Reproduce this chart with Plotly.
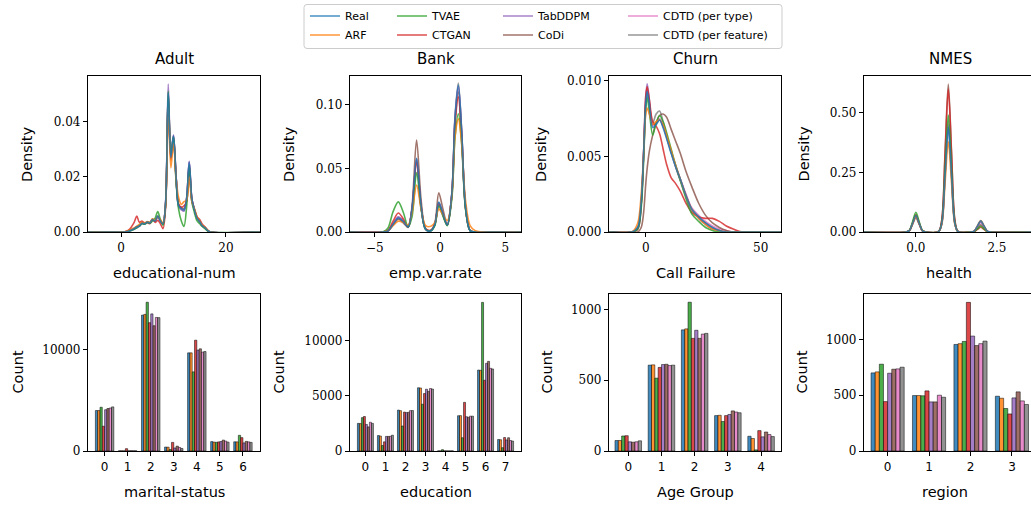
import plotly.graph_objects as go

W, H = 1031, 505

MODELS = ["Real", "ARF", "TVAE", "CTGAN", "TabDDPM", "CoDi",
          "CDTD (per type)", "CDTD (per feature)"]
COLORS = ["#1f77b4", "#ff7f0e", "#2ca02c", "#d62728", "#9467bd", "#8c564b",
          "#e377c2", "#7f7f7f"]

DATASETS = ["Adult", "Bank", "Churn", "NMES"]
NUM_FEATURES = ["educational-num", "emp.var.rate", "Call Failure", "health"]
CAT_FEATURES = ["marital-status", "education", "Age Group", "region"]

# ---------------- density curves ----------------
adult_x = [-6.3, 0.5, 1.5, 2.5, 3.0, 3.5, 4.0, 4.5, 5.0, 5.5, 6.0, 6.5, 7.0, 7.5, 8.0, 8.5,
           9.0, 9.5, 10.0, 10.5, 11.0, 11.5, 12.0, 12.5, 13.0, 13.5, 14.0, 14.5, 15.0,
           15.5, 16.0, 16.5, 17.0, 26.5]
adult_density = {
    "Real": [0, 0, 0.0004, 0.0012, 0.0018, 0.0022, 0.0032, 0.0030, 0.0036, 0.0033, 0.0045, 0.0040, 0.0058, 0.0040, 0.0030, 0.0105,
             0.0505, 0.0270, 0.0348, 0.0200, 0.0095, 0.0085, 0.0080, 0.0120, 0.0252, 0.0120, 0.0080, 0.0050, 0.0038, 0.0022, 0.0016, 0.0006, 0, 0],
    "ARF": [0, 0, 0.0006, 0.0015, 0.0020, 0.0028, 0.0035, 0.0032, 0.0038, 0.0035, 0.0048, 0.0042, 0.0055, 0.0045, 0.0032, 0.0098,
            0.0450, 0.0232, 0.0320, 0.0195, 0.0123, 0.0100, 0.0110, 0.0115, 0.0200, 0.0110, 0.0085, 0.0055, 0.0040, 0.0025, 0.0018, 0.0008, 0, 0],
    "TVAE": [0, 0, 0.0003, 0.0010, 0.0015, 0.0022, 0.0030, 0.0028, 0.0035, 0.0032, 0.0040, 0.0050, 0.0074, 0.0045, 0.0025, 0.0100,
             0.0510, 0.0280, 0.0345, 0.0180, 0.0080, 0.0040, 0.0020, 0.0090, 0.0240, 0.0110, 0.0070, 0.0040, 0.0030, 0.0020, 0.0012, 0.0004, 0, 0],
    "CTGAN": [0, 0, 0.0008, 0.0035, 0.0058, 0.0035, 0.0040, 0.0032, 0.0035, 0.0030, 0.0045, 0.0035, 0.0042, 0.0030, 0.0012, 0.0090,
              0.0490, 0.0260, 0.0340, 0.0190, 0.0100, 0.0090, 0.0095, 0.0110, 0.0238, 0.0115, 0.0080, 0.0055, 0.0045, 0.0028, 0.0018, 0.0006, 0, 0],
    "TabDDPM": [0, 0, 0.0003, 0.0010, 0.0015, 0.0020, 0.0030, 0.0028, 0.0034, 0.0032, 0.0043, 0.0040, 0.0055, 0.0040, 0.0028, 0.0110,
                0.0536, 0.0285, 0.0352, 0.0200, 0.0090, 0.0080, 0.0075, 0.0120, 0.0256, 0.0120, 0.0080, 0.0050, 0.0036, 0.0022, 0.0015, 0.0005, 0, 0],
    "CoDi": [0, 0, 0.0005, 0.0013, 0.0020, 0.0024, 0.0033, 0.0031, 0.0036, 0.0034, 0.0046, 0.0041, 0.0057, 0.0042, 0.0031, 0.0100,
             0.0480, 0.0265, 0.0335, 0.0198, 0.0098, 0.0088, 0.0085, 0.0118, 0.0242, 0.0118, 0.0082, 0.0052, 0.0038, 0.0023, 0.0017, 0.0006, 0, 0],
    "CDTD (per type)": [0, 0, 0.0004, 0.0012, 0.0018, 0.0022, 0.0032, 0.0030, 0.0036, 0.0033, 0.0045, 0.0040, 0.0058, 0.0041, 0.0030, 0.0105,
                        0.0510, 0.0272, 0.0349, 0.0200, 0.0095, 0.0085, 0.0080, 0.0121, 0.0253, 0.0121, 0.0080, 0.0050, 0.0038, 0.0022, 0.0016, 0.0006, 0, 0],
    "CDTD (per feature)": [0, 0, 0.0004, 0.0012, 0.0018, 0.0022, 0.0032, 0.0030, 0.0036, 0.0033, 0.0045, 0.0040, 0.0058, 0.0041, 0.0030, 0.0105,
                           0.0500, 0.0270, 0.0347, 0.0200, 0.0095, 0.0085, 0.0080, 0.0120, 0.0250, 0.0120, 0.0080, 0.0050, 0.0038, 0.0022, 0.0016, 0.0006, 0, 0],
}

bank_x = [-6.9, -4.4, -4.0, -3.6, -3.2, -2.8, -2.45, -2.15, -1.8, -1.45, -1.1, -0.7,
          -0.4, -0.1, 0.2, 0.55, 0.9, 1.15, 1.4, 1.65, 1.95, 2.3, 2.7, 6.2]
bank_density = {
    "Real": [0, 0, 0.0008, 0.0060, 0.0110, 0.0080, 0.0040, 0.0180, 0.0580, 0.0200, 0.0020, 0.0010,
             0.0060, 0.0235, 0.0150, 0.0055, 0.0300, 0.0900, 0.1155, 0.0800, 0.0200, 0.0010, 0, 0],
    "ARF": [0, 0, 0.0012, 0.0050, 0.0085, 0.0075, 0.0055, 0.0150, 0.0370, 0.0180, 0.0050, 0.0045,
            0.0075, 0.0180, 0.0140, 0.0090, 0.0280, 0.0750, 0.0890, 0.0700, 0.0250, 0.0050, 0.0010, 0],
    "TVAE": [0, 0, 0.0030, 0.0160, 0.0237, 0.0150, 0.0040, 0.0120, 0.0466, 0.0180, 0.0020, 0.0010,
             0.0050, 0.0205, 0.0130, 0.0050, 0.0260, 0.0750, 0.0930, 0.0700, 0.0180, 0.0010, 0, 0],
    "CTGAN": [0, 0, 0.0012, 0.0085, 0.0150, 0.0100, 0.0040, 0.0170, 0.0550, 0.0190, 0.0025, 0.0015,
              0.0060, 0.0220, 0.0140, 0.0055, 0.0290, 0.0850, 0.1063, 0.0750, 0.0190, 0.0012, 0, 0],
    "TabDDPM": [0, 0, 0.0008, 0.0065, 0.0120, 0.0085, 0.0040, 0.0180, 0.0570, 0.0200, 0.0020, 0.0012,
                0.0060, 0.0225, 0.0145, 0.0055, 0.0300, 0.0900, 0.1140, 0.0790, 0.0200, 0.0010, 0, 0],
    "CoDi": [0, 0, 0.0006, 0.0055, 0.0100, 0.0070, 0.0035, 0.0200, 0.0724, 0.0250, 0.0025, 0.0012,
             0.0070, 0.0308, 0.0190, 0.0055, 0.0290, 0.0870, 0.1100, 0.0770, 0.0190, 0.0010, 0, 0],
    "CDTD (per type)": [0, 0, 0.0008, 0.0062, 0.0115, 0.0082, 0.0040, 0.0180, 0.0575, 0.0200, 0.0020, 0.0010,
                        0.0060, 0.0230, 0.0148, 0.0055, 0.0300, 0.0900, 0.1150, 0.0800, 0.0200, 0.0010, 0, 0],
    "CDTD (per feature)": [0, 0, 0.0008, 0.0060, 0.0110, 0.0080, 0.0040, 0.0180, 0.0570, 0.0200, 0.0020, 0.0010,
                           0.0060, 0.0230, 0.0148, 0.0055, 0.0305, 0.0920, 0.1172, 0.0810, 0.0200, 0.0010, 0, 0],
}

churn_x = [-16, -6, -3.5, -2, -1, 0, 0.6, 1.5, 3, 4.5, 6, 7.5, 9, 11, 13, 15, 17.5, 20,
           23, 26, 29, 32, 35, 38, 42, 58.8]
churn_density = {
    "Real": [0, 0, 0.0003, 0.0020, 0.0050, 0.0085, 0.0093, 0.0085, 0.0069, 0.0071, 0.0074, 0.0069, 0.0062,
             0.0052, 0.0043, 0.0035, 0.0024, 0.0015, 0.0010, 0.0006, 0.0003, 0.0001, 0, 0, 0, 0],
    "ARF": [0, 0, 0.0006, 0.0025, 0.0050, 0.0078, 0.0082, 0.0078, 0.0071, 0.0073, 0.0074, 0.0071, 0.0064,
            0.0054, 0.0044, 0.0035, 0.0024, 0.0015, 0.0009, 0.0005, 0.0002, 0.0001, 0, 0, 0, 0],
    "TVAE": [0, 0, 0.0002, 0.0016, 0.0045, 0.0082, 0.0089, 0.0080, 0.0064, 0.0072, 0.0077, 0.0073, 0.0066,
             0.0055, 0.0044, 0.0034, 0.0022, 0.0012, 0.0007, 0.0003, 0.0001, 0, 0, 0, 0, 0],
    "CTGAN": [0, 0, 0.0002, 0.0018, 0.0050, 0.0090, 0.0096, 0.0088, 0.0073, 0.0070, 0.0065, 0.0055, 0.0045,
              0.0036, 0.0032, 0.0027, 0.0019, 0.0013, 0.0010, 0.0009, 0.0009, 0.0007, 0.0004, 0.0002, 0, 0],
    "TabDDPM": [0, 0, 0.0002, 0.0018, 0.0050, 0.0090, 0.0098, 0.0088, 0.0071, 0.0072, 0.0074, 0.0070, 0.0063,
                0.0053, 0.0044, 0.0035, 0.0024, 0.0015, 0.0009, 0.0005, 0.0002, 0.0001, 0, 0, 0, 0],
    "CoDi": [0, 0, 0, 0.0003, 0.0012, 0.0032, 0.0042, 0.0053, 0.0064, 0.0072, 0.0077, 0.0078, 0.0076,
             0.0068, 0.0060, 0.0052, 0.0040, 0.0030, 0.0019, 0.0011, 0.0006, 0.0003, 0.0001, 0, 0, 0],
    "CDTD (per type)": [0, 0, 0.0003, 0.0020, 0.0050, 0.0087, 0.0095, 0.0086, 0.0070, 0.0072, 0.0075, 0.0070, 0.0063,
                        0.0053, 0.0043, 0.0035, 0.0025, 0.0016, 0.0011, 0.0007, 0.0004, 0.0002, 0.0001, 0, 0, 0],
    "CDTD (per feature)": [0, 0, 0.0003, 0.0019, 0.0048, 0.0084, 0.0092, 0.0085, 0.0072, 0.0078, 0.0080, 0.0073, 0.0064,
                           0.0053, 0.0043, 0.0034, 0.0024, 0.0015, 0.0010, 0.0006, 0.0003, 0.0001, 0, 0, 0, 0],
}

nmes_x = [-1.6, -0.3, -0.2, -0.1, 0.0, 0.1, 0.2, 0.3, 0.7, 0.8, 0.9, 1.0, 1.1, 1.2, 1.3,
          1.7, 1.8, 1.9, 2.0, 2.1, 2.2, 2.3, 3.6]
nmes_density = {
    "Real": [0, 0.0003, 0.0058, 0.0367, 0.068, 0.0367, 0.0058, 0.0003, 0.0018, 0.0373, 0.2371, 0.439, 0.2371, 0.0373, 0.0018,
             0.0002, 0.0040, 0.0254, 0.047, 0.0254, 0.0040, 0.0002, 0],
    "ARF": [0, 0.0003, 0.0055, 0.0351, 0.065, 0.0351, 0.0055, 0.0003, 0.0015, 0.0322, 0.2047, 0.379, 0.2047, 0.0322, 0.0015,
            0.0002, 0.0041, 0.0259, 0.048, 0.0259, 0.0041, 0.0002, 0],
    "TVAE": [0, 0.0003, 0.0070, 0.0443, 0.082, 0.0443, 0.0070, 0.0003, 0.0020, 0.0417, 0.2646, 0.490, 0.2646, 0.0417, 0.0020,
             0.0001, 0.0020, 0.0130, 0.024, 0.0130, 0.0020, 0.0001, 0],
    "CTGAN": [0, 0.0003, 0.0061, 0.0389, 0.072, 0.0389, 0.0061, 0.0003, 0.0024, 0.0509, 0.3235, 0.599, 0.3235, 0.0509, 0.0024,
              0.0001, 0.0017, 0.0108, 0.020, 0.0108, 0.0017, 0.0001, 0],
    "TabDDPM": [0, 0.0003, 0.0056, 0.0356, 0.066, 0.0356, 0.0056, 0.0003, 0.0018, 0.0383, 0.2430, 0.450, 0.2430, 0.0383, 0.0018,
                0.0002, 0.0034, 0.0216, 0.040, 0.0216, 0.0034, 0.0002, 0],
    "CoDi": [0, 0.0002, 0.0051, 0.0324, 0.060, 0.0324, 0.0051, 0.0002, 0.0025, 0.0527, 0.3348, 0.620, 0.3348, 0.0527, 0.0025,
             0.0001, 0.0026, 0.0162, 0.030, 0.0162, 0.0026, 0.0001, 0],
    "CDTD (per type)": [0, 0.0003, 0.0058, 0.0367, 0.068, 0.0367, 0.0058, 0.0003, 0.0018, 0.0391, 0.2484, 0.460, 0.2484, 0.0391, 0.0018,
                        0.0002, 0.0038, 0.0243, 0.045, 0.0243, 0.0038, 0.0002, 0],
    "CDTD (per feature)": [0, 0.0003, 0.0060, 0.0378, 0.070, 0.0378, 0.0060, 0.0003, 0.0018, 0.0374, 0.2376, 0.440, 0.2376, 0.0374, 0.0018,
                           0.0002, 0.0039, 0.0248, 0.046, 0.0248, 0.0039, 0.0002, 0],
}

# ---------------- categorical counts ----------------
adult_cats = [0, 1, 2, 3, 4, 5, 6]
adult_counts = {
    "Real": [4000, 22, 13430, 390, 9700, 930, 910],
    "ARF": [4000, 20, 13500, 380, 9700, 880, 900],
    "TVAE": [4320, 15, 14700, 150, 7820, 860, 1550],
    "CTGAN": [2450, 230, 12680, 850, 10950, 900, 1320],
    "TabDDPM": [4080, 20, 13550, 300, 9970, 940, 800],
    "CoDi": [4200, 25, 12380, 480, 10100, 1080, 950],
    "CDTD (per type)": [4250, 22, 13200, 350, 9770, 980, 900],
    "CDTD (per feature)": [4360, 20, 13180, 250, 9830, 880, 850],
}

bank_cats = [0, 1, 2, 3, 4, 5, 6, 7]
bank_counts = {
    "Real": [2500, 1400, 3700, 5720, 11, 3190, 7320, 1040],
    "ARF": [2480, 1350, 3650, 5700, 10, 3200, 7300, 1020],
    "TVAE": [3020, 500, 2260, 4230, 120, 1200, 13440, 300],
    "CTGAN": [3120, 830, 3520, 5200, 15, 4400, 6400, 1220],
    "TabDDPM": [2400, 1320, 3470, 5590, 10, 3100, 7930, 1000],
    "CoDi": [2180, 1320, 3500, 5400, 8, 3050, 8110, 1200],
    "CDTD (per type)": [2600, 1330, 3650, 5650, 12, 3150, 7480, 950],
    "CDTD (per feature)": [2500, 1430, 3660, 5600, 10, 3150, 7420, 900],
}

churn_cats = [0, 1, 2, 3, 4]
churn_counts = {
    "Real": [74, 606, 855, 250, 104],
    "ARF": [74, 608, 862, 252, 88],
    "TVAE": [106, 514, 1050, 208, 8],
    "CTGAN": [108, 590, 795, 250, 144],
    "TabDDPM": [65, 610, 852, 258, 100],
    "CoDi": [62, 612, 795, 283, 134],
    "CDTD (per type)": [65, 603, 825, 275, 116],
    "CDTD (per feature)": [72, 606, 830, 270, 102],
}

nmes_cats = [0, 1, 2, 3]
nmes_counts = {
    "Real": [700, 497, 955, 491],
    "ARF": [709, 497, 962, 473],
    "TVAE": [778, 495, 982, 381],
    "CTGAN": [443, 539, 1332, 332],
    "TabDDPM": [697, 440, 1030, 476],
    "CoDi": [733, 440, 945, 530],
    "CDTD (per type)": [736, 500, 962, 449],
    "CDTD (per feature)": [751, 482, 985, 417],
}

density_x = [adult_x, bank_x, churn_x, nmes_x]
density_data = [adult_density, bank_density, churn_density, nmes_density]
count_cats = [adult_cats, bank_cats, churn_cats, nmes_cats]
count_data = [adult_counts, bank_counts, churn_counts, nmes_counts]

# ---------------- layout geometry (pixels) ----------------
COLS_PX = [(88, 260), (350, 521), (609, 781), (864, 1031)]
ROWS_PX = [(76, 232), (294, 451)]

top_xrange = [[-6.3, 26.5], [-6.9, 6.2], [-16, 58.8], [-1.6, 3.55]]
top_yrange = [[0, 0.0565], [0, 0.1227], [0, 0.01031], [0, 0.6534]]
top_xdtick = [20, 5, 50, 2.5]
top_xfmt = ["d", "d", "d", ".1f"]
top_ydtick = [0.02, 0.05, 0.005, 0.25]
top_yfmt = [".2f", ".2f", ".3f", ".2f"]

bot_xrange = [[-0.72, 6.74], [-0.77, 7.77], [-0.58, 4.6], [-0.57, 3.46]]
bot_yrange = [[0, 15515], [0, 14200], [0, 1108], [0, 1407]]
bot_ydtick = [10000, 5000, 500, 500]

SERIF = "DejaVu Serif"
SANS = "DejaVu Sans"


def fx(p):
    return p / W


def fy(p):
    return 1 - p / H


def rgba(hexc, a):
    h = hexc.lstrip("#")
    return "rgba(%d,%d,%d,%.2f)" % (int(h[0:2], 16), int(h[2:4], 16), int(h[4:6], 16), a)


fig = go.Figure()
legend_names = ["legend", "legend2", "legend3", "legend4"]

# density lines: drawn in reverse order so that "Real" is on top
for c in range(4):
    ax = "" if c == 0 else str(c + 1)
    for i in reversed(range(len(MODELS))):
        m = MODELS[i]
        fig.add_trace(go.Scatter(
            x=density_x[c], y=density_data[c][m], mode="lines",
            line=dict(color=COLORS[i], width=1.6, shape="spline", smoothing=0.9),
            opacity=0.82, name=m, legendgroup=m,
            showlegend=(c == 0), legend=legend_names[i // 2], legendrank=i + 1,
            xaxis="x" + ax, yaxis="y" + ax, hoverinfo="skip"))

# count bars
for c in range(4):
    ax = str(c + 5)
    for i, m in enumerate(MODELS):
        fig.add_trace(go.Bar(
            x=count_cats[c], y=count_data[c][m], name=m, legendgroup=m,
            showlegend=False,
            marker=dict(color=rgba(COLORS[i], 0.85), line=dict(color="black", width=0.5)),
            xaxis="x" + ax, yaxis="y" + ax, hoverinfo="skip"))

base_axis = dict(showline=True, linecolor="black", linewidth=1.3, ticks="outside",
                 ticklen=4, tickwidth=1, tickcolor="black", showgrid=False,
                 zeroline=False, fixedrange=True, automargin=False)

layout = {}
for r in range(2):
    for c in range(4):
        k = r * 4 + c + 1
        sfx = "" if k == 1 else str(k)
        x0, x1 = COLS_PX[c]
        y0, y1 = ROWS_PX[r]
        if r == 0:
            xa = dict(base_axis, domain=[fx(x0), fx(x1)], range=top_xrange[c],
                      dtick=top_xdtick[c], tick0=0, tickformat=top_xfmt[c],
                      tickfont=dict(family=SERIF, size=12, color="black"))
            ya = dict(base_axis, domain=[fy(y1), fy(y0)], range=top_yrange[c],
                      dtick=top_ydtick[c], tick0=0, tickformat=top_yfmt[c],
                      tickfont=dict(family=SERIF, size=12, color="black"))
        else:
            xa = dict(base_axis, domain=[fx(x0), fx(x1)], range=bot_xrange[c],
                      dtick=1, tick0=0, tickformat="d",
                      tickfont=dict(family=SANS, size=12, color="black"))
            ya = dict(base_axis, domain=[fy(y1), fy(y0)], range=bot_yrange[c],
                      dtick=bot_ydtick[c], tick0=0, tickformat="d",
                      tickfont=dict(family=SERIF, size=12, color="black"))
        xa["mirror"] = True
        ya["mirror"] = (c != 3)
        xa["anchor"] = "y" + sfx
        ya["anchor"] = "x" + sfx
        layout["xaxis" + sfx] = xa
        layout["yaxis" + sfx] = ya

annotations = []
title_x = [174, 435.5, 695, 950]
for c in range(4):
    annotations.append(dict(text=DATASETS[c], x=fx(title_x[c]), y=fy(59), xref="paper", yref="paper",
                            showarrow=False, xanchor="center", yanchor="middle",
                            font=dict(family=SANS, size=15, color="black")))
xlab_top_x = [174, 435.5, 695, 949]
xlab_bot_x = [174, 435.5, 695, 945]
for c in range(4):
    annotations.append(dict(text=NUM_FEATURES[c], x=fx(xlab_top_x[c]), y=fy(273), xref="paper", yref="paper",
                            showarrow=False, xanchor="center", yanchor="middle",
                            font=dict(family=SANS, size=14.5, color="black")))
    annotations.append(dict(text=CAT_FEATURES[c], x=fx(xlab_bot_x[c]), y=fy(492), xref="paper", yref="paper",
                            showarrow=False, xanchor="center", yanchor="middle",
                            font=dict(family=SANS, size=14.5, color="black")))
ylab_top_x = [27, 289, 541, 803.5]
ylab_bot_x = [17, 278, 546, 801]
for c in range(4):
    annotations.append(dict(text="Density", x=fx(ylab_top_x[c]), y=fy(154), xref="paper", yref="paper",
                            showarrow=False, xanchor="center", yanchor="middle", textangle=-90,
                            font=dict(family=SANS, size=14.5, color="black")))
    annotations.append(dict(text="Count", x=fx(ylab_bot_x[c]), y=fy(372.5), xref="paper", yref="paper",
                            showarrow=False, xanchor="center", yanchor="middle", textangle=-90,
                            font=dict(family=SANS, size=14.5, color="black")))

# legend frame (rounded rectangle)
bx0, bx1, by0, by1, rr = 304, 782, 4.5, 48.5, 3
pts = [("M", bx0 + rr, by0), ("L", bx1 - rr, by0), ("Q", bx1, by0, bx1, by0 + rr),
       ("L", bx1, by1 - rr), ("Q", bx1, by1, bx1 - rr, by1), ("L", bx0 + rr, by1),
       ("Q", bx0, by1, bx0, by1 - rr), ("L", bx0, by0 + rr), ("Q", bx0, by0, bx0 + rr, by0)]
path = ""
for p in pts:
    if p[0] == "Q":
        path += "Q%.5f,%.5f %.5f,%.5f " % (fx(p[1]), fy(p[2]), fx(p[3]), fy(p[4]))
    else:
        path += "%s%.5f,%.5f " % (p[0], fx(p[1]), fy(p[2]))
path += "Z"
shapes = [dict(type="path", path=path, xref="paper", yref="paper",
               line=dict(color="#cccccc", width=1), fillcolor="rgba(255,255,255,0.8)", layer="above")]

legend_x = [305, 392, 498, 623]
for k in range(4):
    layout[legend_names[k]] = dict(x=fx(legend_x[k]), y=fy(1.5), xanchor="left", yanchor="top",
                                   orientation="v", bgcolor="rgba(0,0,0,0)", borderwidth=0,
                                   itemwidth=30, tracegroupgap=0,
                                   font=dict(family=SANS, size=11, color="black"))

fig.update_layout(template="none", width=W, height=H, autosize=False,
                  margin=dict(l=0, r=0, t=0, b=0, pad=0, autoexpand=False),
                  paper_bgcolor="white", plot_bgcolor="white",
                  barmode="group", bargap=0.2, bargroupgap=0,
                  annotations=annotations, shapes=shapes, **layout)

fig.write_html("out.html", config={"displayModeBar": False},
               post_script="document.body.style.margin='0';document.body.style.padding='0';"
                           "document.documentElement.style.overflow='hidden';")
